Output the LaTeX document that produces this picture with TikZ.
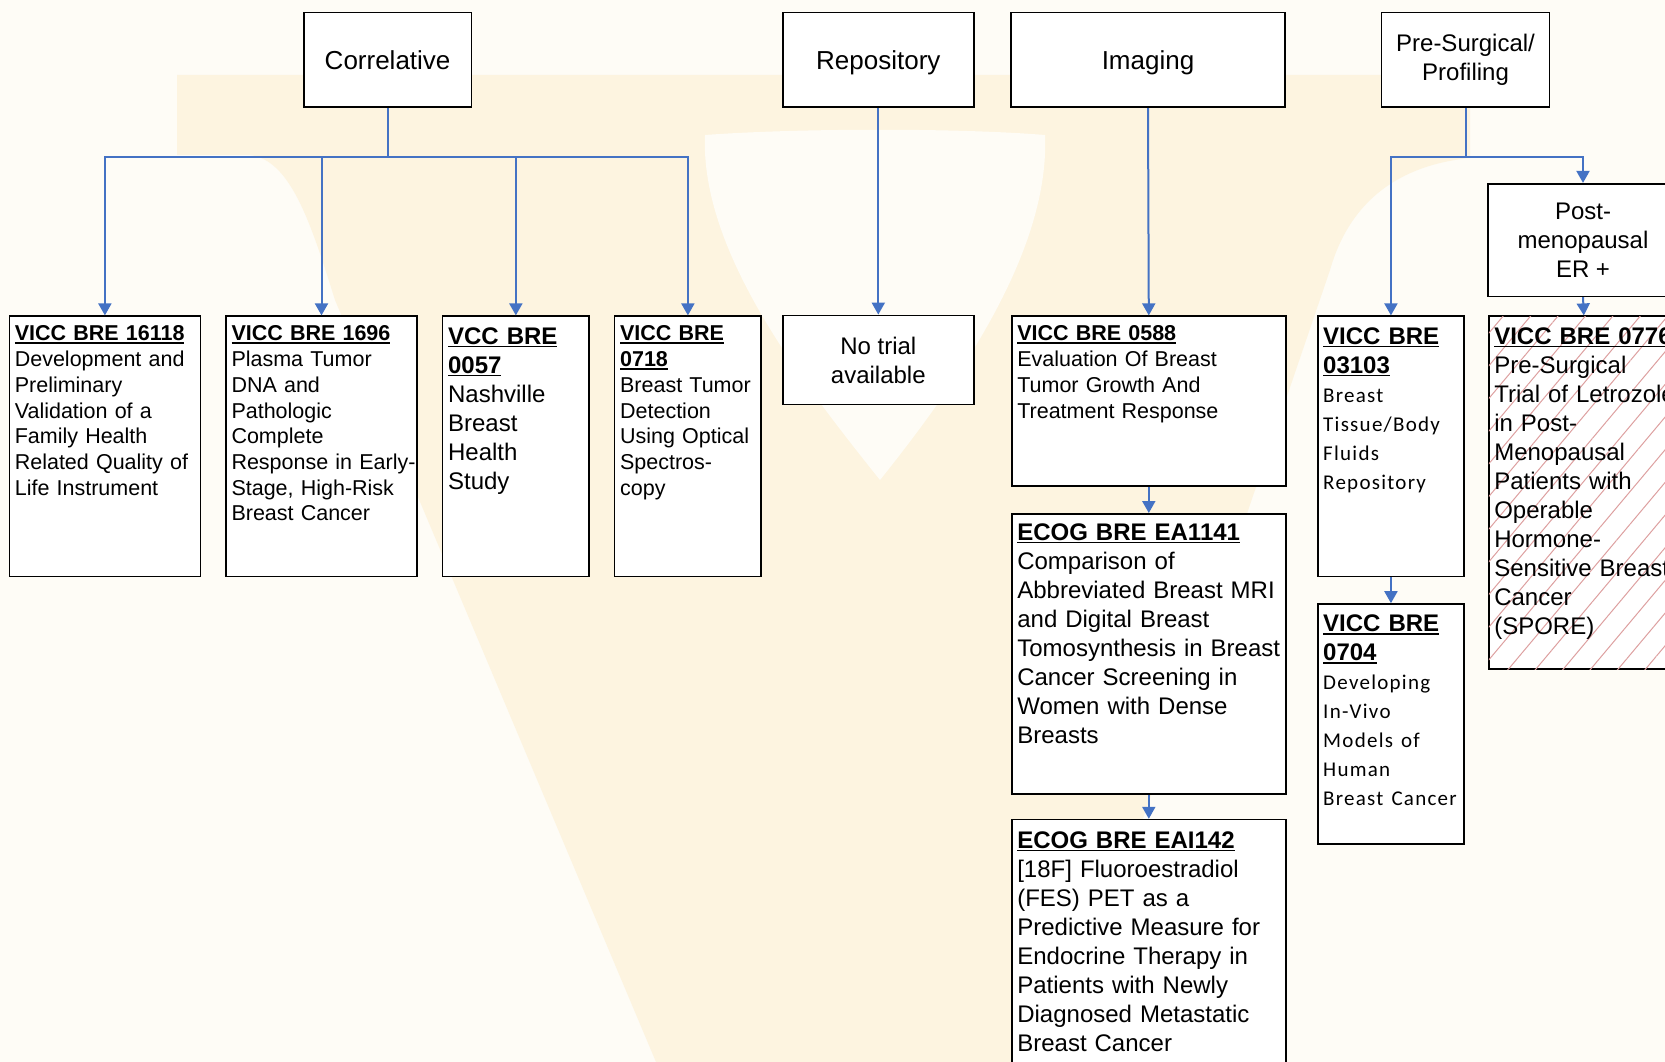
\documentclass[tikz,border=0pt]{standalone}
\usepackage{fontspec}
\setmainfont{Liberation Sans}
\newfontfamily\calib{Carlito}[LetterSpace=6]
\usetikzlibrary{arrows.meta,patterns.meta}
\definecolor{cream}{HTML}{FEFCF6}
\definecolor{vgold}{HTML}{FDF4E0}
\definecolor{linkblue}{HTML}{4472C4}
\definecolor{hatch}{HTML}{DDA0A0}
\newsavebox{\hdbox}
\newcommand{\hd}[1]{\sbox{\hdbox}{\textbf{#1}}\usebox{\hdbox}\llap{\rule[-3pt]{\wd\hdbox}{1.5pt}}}
\newcommand{\tlines}[1]{\begin{tabular}[t]{@{}l@{}}#1\end{tabular}}
\newcommand{\calbody}[1]{{\calib\fontsize{21}{29}\selectfont\begin{tabular}[t]{@{}l@{}}#1\end{tabular}}}
\tikzset{
  box/.style={draw=black, fill=white, line width=1.6pt},
  head/.style={box, align=center, inner sep=0pt, font=\fontsize{26}{30}\selectfont},
  oneline/.style={text height=19pt, text depth=0pt},
  trialbox/.style={box, anchor=north west, align=left, inner xsep=5.5pt, inner ysep=0pt},
  sm/.style={font=\fontsize{21.5}{25.7}\selectfont},
  md/.style={font=\fontsize{24}{29}\selectfont},
  link/.style={draw=linkblue, line width=2pt, -{Triangle[width=13pt,length=12pt]}}
}
\begin{document}
\begin{tikzpicture}[x=1pt,y=-1pt]
\useasboundingbox (0,0) rectangle (1665,1062);
\clip (0,0) rectangle (1665,1062);
% faint watermark
\fill[cream] (0,0) rectangle (1665,1062);
\fill[vgold] (177,75) -- (1470,75) -- (1470,158) .. controls (1400,165) and (1350,200) .. (1330,270)
  -- (1060,1062) -- (656,1062) -- (335,300) .. controls (310,220) and (290,160) .. (250,155) -- (177,155) -- cycle;
\fill[cream] (705,135) .. controls (800,128) and (960,128) .. (1045,135) .. controls (1050,250) and (960,380) .. (880,480)
  .. controls (800,380) and (700,250) .. (705,135) -- cycle;

% top row
\node (corr)[head, oneline, minimum width=167.8pt, minimum height=94.6pt] at (387.6,60) {Correlative};
\node (repo)[head, oneline, minimum width=191.2pt, minimum height=94.6pt] at (878.3,60) {Repository};
\node (imag)[head, oneline, minimum width=274pt, minimum height=94.6pt] at (1148,60) {Imaging};
\node (pres)[head, md, minimum width=168pt, minimum height=94.6pt] at (1465.5,60) {Pre-Surgical/\\Profiling};
\node (postmeno)[head, md, minimum width=190pt, minimum height=112.6pt] at (1583,240) {Post-\\menopausal\\ER +};
\node (notrial)[head, md, minimum width=191.2pt, minimum height=89.2pt] at (878.3,360) {No trial\\available};

% trials
\node (b16118)[trialbox, sm, text width=180.2pt, text height=24.7pt, text depth=235.5pt] at (8.5,315.4)
  {\tlines{\hd{VICC BRE 16118}\\Development and\\Preliminary\\Validation of a\\Family Health\\Related Quality of\\Life Instrument}};
\node (b1696)[trialbox, sm, text width=180pt, text height=24.7pt, text depth=235.5pt] at (225.2,315.4)
  {\tlines{\hd{VICC BRE 1696}\\Plasma Tumor\\DNA and\\Pathologic\\Complete\\Response in Early-\\Stage, High-Risk\\Breast Cancer}};
\node (b0057)[trialbox, md, text width=135.5pt, text height=28pt, text depth=232.2pt] at (441.8,315.4)
  {\tlines{\hd{VCC BRE}\\\hd{0057}\\Nashville\\Breast\\Health\\Study}};
\node (b0718)[trialbox, sm, text width=135.6pt, text height=24.7pt, text depth=235.5pt] at (613.8,315.4)
  {\tlines{\hd{VICC BRE}\\\hd{0718}\\Breast Tumor\\Detection\\Using Optical\\Spectros-\\copy}};
\node (v0588)[trialbox, sm, text width=263pt, text height=24.7pt, text depth=145.3pt] at (1011,315.4)
  {\tlines{\hd{VICC BRE 0588}\\Evaluation Of Breast\\Tumor Growth And\\Treatment Response}};
\node (ea1141)[trialbox, md, text width=263pt, text height=26.6pt, text depth=253.7pt] at (1011,513)
  {\tlines{\hd{ECOG BRE EA1141}\\Comparison of\\Abbreviated Breast MRI\\and Digital Breast\\Tomosynthesis in Breast\\Cancer Screening in\\Women with Dense\\Breasts}};
\node (eai142)[trialbox, md, text width=263pt, text height=28.8pt, text depth=231.2pt] at (1011,818.8)
  {\tlines{\hd{ECOG BRE EAI142}\\{[18F]} Fluoroestradiol\\(FES) PET as a\\Predictive Measure for\\Endocrine Therapy in\\Patients with Newly\\Diagnosed Metastatic\\Breast Cancer}};
\node (v03103)[trialbox, md, text width=135.5pt, text height=28pt, text depth=232.2pt] at (1316.9,315.4)
  {\tlines{\hd{VICC BRE}\\\hd{03103}\\\calbody{Breast\\Tissue/Body\\Fluids\\Repository}}};
\node (v0704)[trialbox, md, text width=135.5pt, text height=27.8pt, text depth=212.2pt] at (1316.9,603.2)
  {\tlines{\hd{VICC BRE}\\\hd{0704}\\\calbody{Developing\\In-Vivo\\Models of\\Human\\Breast Cancer}}};
\node (v0776)[trialbox, md, text width=179pt, text height=28pt, text depth=325pt,
  postaction={pattern={Lines[angle=50,distance=21pt,line width=1pt]}, pattern color=hatch}] at (1488,315.4)
  {\tlines{\hd{VICC BRE 0776}\\Pre-Surgical\\Trial of Letrozole\\in Post-\\Menopausal\\Patients with\\Operable\\Hormone-\\Sensitive Breast\\Cancer\\(SPORE)}};

% connectors
\foreach \to in {b16118,b1696,b0057,b0718}
  \draw[link] (corr.south) -- ++(0,49) -| (\to.north);
\foreach \to in {v03103,postmeno}
  \draw[link] (pres.south) -- ++(0,49) -| (\to.north);
\foreach \from/\to in {repo/notrial,imag/v0588,v0588/ea1141,ea1141/eai142,v03103/v0704,postmeno/v0776}
  \draw[link] (\from.south) -- (\to.north);
\end{tikzpicture}
\end{document}
